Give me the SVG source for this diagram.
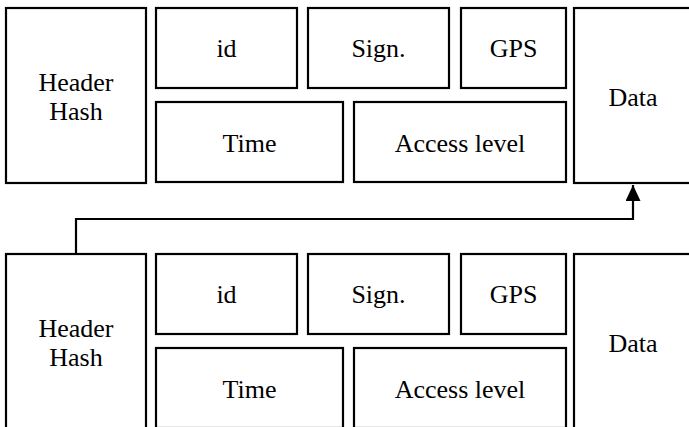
<svg xmlns="http://www.w3.org/2000/svg" width="689" height="427" viewBox="0 0 689 427">
<style>
.b{fill:#fff;stroke:#000;stroke-width:2.2}
.c{fill:none;stroke:#000;stroke-width:2.2}
</style>
<defs>
<marker id="ah" markerWidth="16" markerHeight="15" refX="16" refY="7.5" orient="auto" markerUnits="userSpaceOnUse" viewBox="0 0 16 15">
<path d="M0,0 L16,7.5 L0,15 Z" fill="#000"/>
</marker>
</defs>
<rect width="689" height="427" fill="#fff"/>
<g font-family="'Liberation Serif', 'Times New Roman', 'DejaVu Serif', serif" font-size="26" text-anchor="middle" fill="#000">
<g id="block1">
<g id="hh1"><rect class="b" x="6" y="8" width="140" height="175"/><text x="76" y="91">Header</text><text x="76" y="120">Hash</text></g>
<g id="id1"><rect class="b" x="156" y="8" width="141" height="80"/><text x="226.5" y="57">id</text></g>
<g id="sign1"><rect class="b" x="308" y="8" width="141" height="80"/><text x="378.5" y="57">Sign.</text></g>
<g id="gps1"><rect class="b" x="461" y="8" width="105" height="80"/><text x="513.5" y="57">GPS</text></g>
<g id="time1"><rect class="b" x="156" y="102" width="187" height="80"/><text x="249.5" y="151.5">Time</text></g>
<g id="access1"><rect class="b" x="354" y="102" width="212" height="80"/><text x="460" y="151.5">Access level</text></g>
<g id="data1"><rect class="b" x="574" y="8" width="130" height="175"/><text x="633" y="106">Data</text></g>
</g>
<g id="block2">
<g id="hh2"><rect class="b" x="6" y="254" width="140" height="185"/><text x="76" y="337">Header</text><text x="76" y="366">Hash</text></g>
<g id="id2"><rect class="b" x="156" y="254" width="141" height="80"/><text x="226.5" y="303">id</text></g>
<g id="sign2"><rect class="b" x="308" y="254" width="141" height="80"/><text x="378.5" y="303">Sign.</text></g>
<g id="gps2"><rect class="b" x="461" y="254" width="105" height="80"/><text x="513.5" y="303">GPS</text></g>
<g id="time2"><rect class="b" x="156" y="348" width="187" height="80"/><text x="249.5" y="397.5">Time</text></g>
<g id="access2"><rect class="b" x="354" y="348" width="212" height="80"/><text x="460" y="397.5">Access level</text></g>
<g id="data2"><rect class="b" x="574" y="254" width="130" height="185"/><text x="633" y="352">Data</text></g>
</g>
</g>
<g id="connectors">
<path class="c" d="M76,254 L76,219 L633,219 L633,185" marker-end="url(#ah)"/>
</g>
</svg>
